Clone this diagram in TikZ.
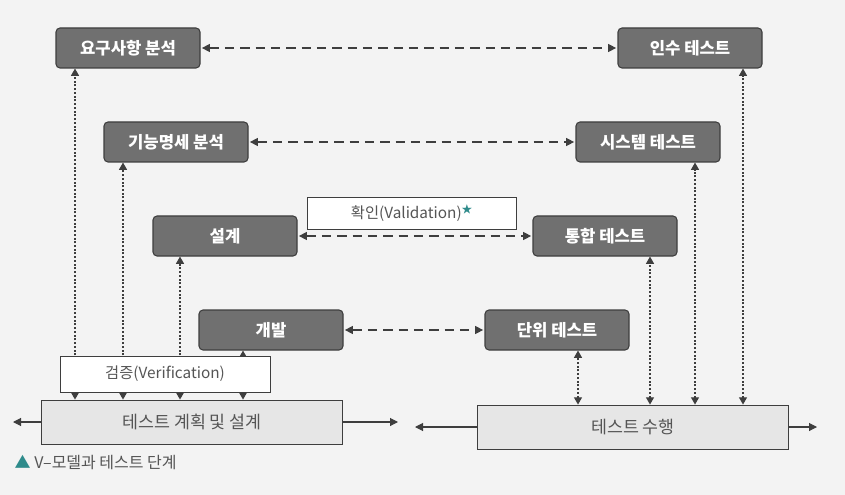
\documentclass[tikz,border=0pt]{standalone}
\usepackage{fontspec}
\setmainfont{Noto Sans CJK KR}
\usetikzlibrary{arrows.meta,positioning}
\definecolor{page}{HTML}{F3F3F3}
\definecolor{phasefill}{HTML}{707070}
\definecolor{edge}{HTML}{3E3E3E}
\definecolor{planfill}{HTML}{E6E6E6}
\definecolor{txtgray}{HTML}{555555}
\definecolor{mark}{HTML}{2E8B8B}

\begin{document}
\begin{tikzpicture}[x=0.75pt,y=-0.75pt,
  phase/.style={draw=edge,fill=phasefill,rounded corners=3pt,line width=0.8pt,minimum width=108pt,minimum height=30pt,text=white,font=\fontsize{12.5}{14}\selectfont\bfseries},
  testplan/.style={draw=edge,fill=planfill,line width=0.6pt,minimum height=33pt,text=txtgray,font=\fontsize{13}{15}\selectfont},
  note/.style={draw=edge,fill=white,line width=0.6pt,text=txtgray,font=\fontsize{11.5}{14}\selectfont},
  link/.style={{Triangle[length=6pt,width=6pt]}-{Triangle[length=6pt,width=6pt]},edge,line width=0.9pt,dash pattern=on 7pt off 4.5pt,shorten <=1pt,shorten >=1pt},
  trace/.style={{Triangle[length=5.5pt,width=6pt]}-{Triangle[length=5.5pt,width=6pt]},edge,line width=1pt,dash pattern=on 1.5pt off 1.3pt},
  flow/.style={-{Triangle[length=6pt,width=6pt]},edge,line width=0.8pt}]
\fill[page] (0,0) rectangle (845,495);

% left and right legs of the V
\node[phase] (req) at (128,48) {요구사항 분석};
\node[phase] (func) at (176,142) {기능명세 분석};
\node[phase] (design) at (225,236) {설계};
\node[phase] (dev) at (271,330) {개발};
\node[phase] (acc) at (690,48) {인수 테스트};
\node[phase] (sys) at (648,142) {시스템 테스트};
\node[phase] (integ) at (605,236) {통합 테스트};
\node[phase] (unit) at (557,330) {단위 테스트};

\node[testplan,minimum width=226pt] (plan) at (192,422) {테스트 계획 및 설계};
\node[testplan,minimum width=233pt] (exec) at (633,427) {테스트 수행};

\foreach \a/\b in {req/acc,func/sys,design/integ,dev/unit}
  \draw[link] (\a.east) -- (\b.west);

\foreach \n/\x in {req/75,func/123,design/180,dev/243}{
  \coordinate (l\n) at (\x,0);
  \draw[trace] (plan.north -| l\n) -- (\n.south -| l\n);
}
\foreach \n/\x in {unit/578,integ/650,sys/695,acc/743}{
  \coordinate (r\n) at (\x,0);
  \draw[trace] (exec.north -| r\n) -- (\n.south -| r\n);
}

\node[note,minimum width=157.5pt,minimum height=27pt] (verif) at (165,374) {검증(Verification)};
\node[note,minimum width=157pt,minimum height=24pt] (valid) at (412,213) {확인(Validation)\textsuperscript{\textcolor{mark}{★}}};

\coordinate (planL) at (13,422);
\coordinate (planR) at (398,422);
\coordinate (execL) at (415,427);
\coordinate (execR) at (817,427);
\draw[flow] (plan.west) -- (planL);
\draw[flow] (plan.east) -- (planR);
\draw[flow] (exec.west) -- (execL);
\draw[flow] (exec.east) -- (execR);

\node[anchor=west,text=txtgray,font=\fontsize{12}{14}\selectfont] (caption) at (10,463) {\textcolor{mark}{▲} V–모델과 테스트 단계};
\end{tikzpicture}
\end{document}
